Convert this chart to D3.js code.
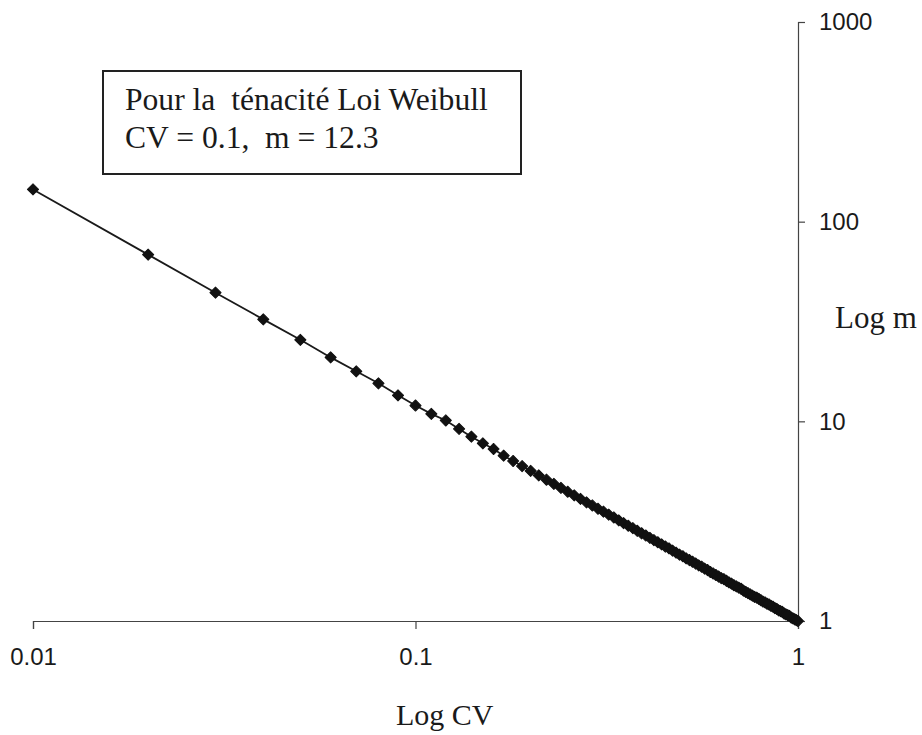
<!DOCTYPE html>
<html>
<head>
<meta charset="utf-8">
<script src="https://cdn.jsdelivr.net/npm/d3@7"></script>
<style>
  html, body { margin: 0; padding: 0; background: #fff; }
  svg { display: block; }
  text { white-space: pre; }
</style>
</head>
<body>
<svg id="chart" width="922" height="735"></svg>
<script>
// ---- Data ----
const cvValues = [
  0.01,0.02,0.03,0.04,0.05,0.06,0.07,0.08,0.09,0.10,
  0.11,0.12,0.13,0.14,0.15,0.16,0.17,0.18,0.19,0.20,
  0.21,0.22,0.23,0.24,0.25,0.26,0.27,0.28,0.29,0.30,
  0.31,0.32,0.33,0.34,0.35,0.36,0.37,0.38,0.39,0.40,
  0.41,0.42,0.43,0.44,0.45,0.46,0.47,0.48,0.49,0.50,
  0.51,0.52,0.53,0.54,0.55,0.56,0.57,0.58,0.59,0.60,
  0.61,0.62,0.63,0.64,0.65,0.66,0.67,0.68,0.69,0.70,
  0.71,0.72,0.73,0.74,0.75,0.76,0.77,0.78,0.79,0.80,
  0.81,0.82,0.83,0.84,0.85,0.86,0.87,0.88,0.89,0.90,
  0.91,0.92,0.93,0.94,0.95,0.96,0.97,0.98,0.99,1.00
];
const mValues = [
  145,68.4,44.1,32.4,25.6,20.9,17.8,15.5,13.5,12.0,
  10.9,10.1,9.16,8.38,7.76,7.27,6.73,6.33,5.97,5.65,
  5.36,5.10,4.86,4.64,4.44,4.26,4.09,3.93,3.79,3.65,
  3.53,3.41,3.30,3.19,3.09,3.00,2.92,2.83,2.75,2.68,
  2.61,2.54,2.48,2.42,2.36,2.31,2.25,2.20,2.15,2.11,
  2.06,2.02,1.98,1.94,1.90,1.87,1.83,1.80,1.76,1.73,
  1.70,1.67,1.64,1.62,1.59,1.56,1.54,1.51,1.49,1.47,
  1.45,1.42,1.40,1.38,1.36,1.34,1.32,1.31,1.29,1.27,
  1.25,1.24,1.22,1.21,1.19,1.18,1.16,1.15,1.13,1.12,
  1.11,1.09,1.08,1.07,1.06,1.04,1.03,1.02,1.01,1.00
];
const xTicks = [0.01, 0.1, 1];
const xTickLabels = ["0.01", "0.1", "1"];
const yTicks = [1, 10, 100, 1000];
const yTickLabels = ["1", "10", "100", "1000"];
const xTitle = "Log CV";
const yTitle = "Log m";
const noteLines = ["Pour la  ténacité Loi Weibull", "CV = 0.1,  m = 12.3"];

// ---- Drawing ----
const svg = d3.select("#chart");
const x = d3.scaleLog().domain([0.01, 1]).range([33, 798]);
const y = d3.scaleLog().domain([1, 1000]).range([621, 22]);

const axisColor = "#444";

// X axis
const gx = svg.append("g").attr("transform", `translate(0,${y(1)})`)
  .call(d3.axisBottom(x).tickValues(xTicks)
    .tickFormat((d, i) => xTickLabels[i])
    .tickSizeOuter(0).tickSize(8).tickPadding(19));
// Y axis (right side)
const gy = svg.append("g").attr("transform", `translate(${x(1)},0)`)
  .call(d3.axisRight(y).tickValues(yTicks)
    .tickFormat((d, i) => yTickLabels[i])
    .tickSizeOuter(0).tickSize(7).tickPadding(14));

[gx, gy].forEach(g => {
  g.select(".domain").attr("stroke", axisColor).attr("stroke-width", 1.2);
  g.selectAll(".tick line").attr("stroke", axisColor).attr("stroke-width", 1.2);
  g.selectAll(".tick text")
    .attr("fill", "#1a1a1a")
    .style("font-family", "'Liberation Sans', Arial, sans-serif")
    .style("font-size", "24px");
});
gx.selectAll(".tick").filter(d => d === 1).select("line").attr("y1", 0);

// Series line
const pts = cvValues.map((c, i) => [c, mValues[i]]);
svg.append("path")
  .datum(pts)
  .attr("fill", "none")
  .attr("stroke", "#1a1a1a")
  .attr("stroke-width", 1.8)
  .attr("d", d3.line().x(d => x(d[0])).y(d => y(d[1])));

// Diamond markers
const diamond = d3.symbol().type(d3.symbolSquare).size(62);
svg.append("g").selectAll("path")
  .data(pts)
  .join("path")
  .attr("d", diamond)
  .attr("transform", d => `translate(${x(d[0])},${y(d[1])}) rotate(45)`)
  .attr("fill", "#111")
  .attr("stroke", "#111")
  .attr("stroke-width", 1)
  .attr("stroke-linejoin", "round");

// Note box
svg.append("rect")
  .attr("x", 103).attr("y", 71).attr("width", 418).attr("height", 103)
  .attr("fill", "#fff").attr("stroke", "#222").attr("stroke-width", 2);
svg.append("g").selectAll("text")
  .data(noteLines)
  .join("text")
  .attr("x", 125)
  .attr("y", (d, i) => 110 + i * 38)
  .attr("fill", "#1a1a1a")
  .style("font-family", "'Liberation Serif', 'Times New Roman', serif")
  .style("font-size", "31.6px")
  .text(d => d);

// Axis titles
svg.append("text")
  .attr("x", 396).attr("y", 725)
  .attr("fill", "#1a1a1a")
  .style("font-family", "'Liberation Serif', 'Times New Roman', serif")
  .style("font-size", "30px")
  .text(xTitle);
svg.append("text")
  .attr("x", 835).attr("y", 328)
  .attr("fill", "#1a1a1a")
  .style("font-family", "'Liberation Serif', 'Times New Roman', serif")
  .style("font-size", "31px")
  .text(yTitle);
</script>
</body>
</html>
